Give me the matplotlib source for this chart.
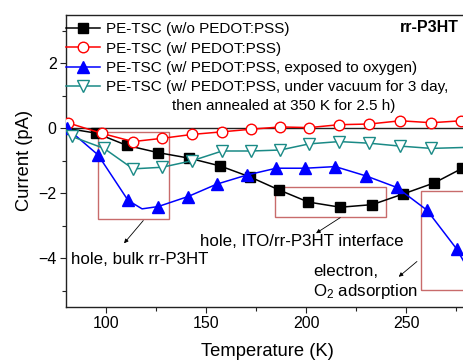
import matplotlib
matplotlib.use("Agg")
import matplotlib.pyplot as plt
from matplotlib.patches import Rectangle
from matplotlib.ticker import MultipleLocator, FixedLocator

plt.rcParams["font.family"] = ["Liberation Sans", "DejaVu Sans"]
plt.rcParams["mathtext.fontset"] = "custom"
plt.rcParams["mathtext.rm"] = "Liberation Sans"
plt.rcParams["mathtext.it"] = "Liberation Sans:italic"

# PE-TSC (w/o PEDOT:PSS)
black_T = [80, 95, 110.5, 126, 141.5, 157, 172, 186.5, 201, 217, 233, 248.5, 264, 278]
black_I = [0.0, -0.15, -0.53, -0.75, -0.92, -1.16, -1.5, -1.9, -2.27, -2.43, -2.35, -2.02, -1.68, -1.23]
black_mk = list(range(1, 14))

# PE-TSC (w/ PEDOT:PSS)
red_T = [80.8, 98, 113.5, 128, 143, 158, 172.5, 187, 201.5, 216.5, 231.5, 247, 262.5, 277.5, 285]
red_I = [0.17, -0.16, -0.41, -0.31, -0.19, -0.11, -0.03, 0.04, 0.02, 0.11, 0.13, 0.23, 0.17, 0.23, 0.25]
red_mk = list(range(0, 14))

# PE-TSC (w/ PEDOT:PSS, exposed to oxygen)
blue_T = [80.5, 96, 111, 118, 126, 141, 155.3, 170.3, 185, 199.5, 214.5, 230, 245.2, 260.3, 275.2, 281]
blue_I = [0.0, -0.82, -2.22, -2.48, -2.41, -2.10, -1.72, -1.44, -1.23, -1.23, -1.18, -1.47, -1.82, -2.52, -3.72, -4.35]
blue_mk = [0, 1, 2, 4, 5, 6, 7, 8, 9, 10, 11, 12, 13, 14]

# PE-TSC (w/ PEDOT:PSS, under vacuum, then annealed)
teal_T = [80, 82.8, 99, 113.5, 128, 143, 158, 172.5, 187, 201.5, 216.5, 231.5, 247, 262.5, 285]
teal_I = [-0.05, -0.25, -0.62, -1.25, -1.2, -1.0, -0.70, -0.70, -0.67, -0.48, -0.41, -0.46, -0.55, -0.62, -0.58]
teal_mk = list(range(1, 14))

labels = [
    "PE-TSC (w/o PEDOT:PSS)",
    "PE-TSC (w/ PEDOT:PSS)",
    "PE-TSC (w/ PEDOT:PSS, exposed to oxygen)",
    "PE-TSC (w/ PEDOT:PSS, under vacuum for 3 day,",
]
label_cont = "then annealed at 350 K for 2.5 h)"

x_major = [100, 150, 200, 250]
x_minor = [125, 175, 225, 275]

# highlighted regions: (T0, I0, width, height)
regions = [(96.1, -2.79, 35.5, 2.67), (184.6, -2.72, 55.4, 0.92), (257.3, -4.97, 60, 3.05)]
region_notes = ["hole, bulk rr-P3HT", "hole, ITO/rr-P3HT interface", "electron,\nO$_2$ adsorption"]
note_xy = [(82.3, -4.03), (146.9, -3.49), (203.4, -4.75)]
arrows = [((118.6, -2.84), (109, -3.54)), ((217, -2.75), (204.9, -3.23)), ((255.3, -4.10), (246.2, -4.57))]

W, H = 464, 361
fig = plt.figure(figsize=(W / 100, H / 100), dpi=100)
ax_left, ax_bottom, ax_top = 66, 307, 14.5
x0, x1 = 80, 300
px_per_K = 2.002
ax_w = (x1 - x0) * px_per_K
ax_h = ax_bottom - ax_top
ax = fig.add_axes([ax_left / W, (H - ax_bottom) / H, ax_w / W, ax_h / H])
ax.set_xlim(x0, x1)
ax.set_ylim(-5.5, 3.5)

ax.axhline(0, color="#222222", lw=1.0, zorder=1)

lw = 1.1
ax.plot(black_T, black_I, "-s", color="black", lw=lw, ms=7.2, markevery=black_mk,
        label=labels[0], zorder=3)
ax.plot(red_T, red_I, "-o", color="#ff0000", mfc="white", mec="#ff0000", mew=1.0, lw=lw,
        ms=7.6, markevery=red_mk, label=labels[1], zorder=3)
ax.plot(blue_T, blue_I, "-^", color="#0000ff", lw=lw, ms=8.5, markevery=blue_mk,
        label=labels[2], zorder=3)
ax.plot(teal_T, teal_I, "-v", color="#1a8a86", mfc="white", mec="#1a8a86", mew=1.0, lw=lw,
        ms=8.5, markevery=teal_mk, label=labels[3], zorder=3)

for (t0, i0, w, h) in regions:
    ax.add_patch(Rectangle((t0, i0), w, h, fill=False, ec="#c86b6b", lw=1.0, zorder=2))

for (start, end) in arrows:
    ax.annotate("", xy=end, xytext=start,
                arrowprops=dict(arrowstyle="-|>", color="black", lw=0.6,
                                mutation_scale=6, shrinkA=0, shrinkB=0))

for txt, (tx, ty) in zip(region_notes, note_xy):
    ax.text(tx, ty, txt, fontsize=12.2, ha="left", va="center", linespacing=1.2)

leg = ax.legend(loc="upper left", bbox_to_anchor=(0.0, (ax_h - 7.5) / ax_h),
                bbox_transform=ax.transAxes, frameon=False, fontsize=11.0,
                handlelength=2.2, handletextpad=0.4, borderaxespad=0, borderpad=0,
                labelspacing=0.36)
fig.text(172 / W, 1 - 106.5 / H, label_cont, fontsize=11.0, ha="left", va="center")
fig.text(459 / W, 1 - 27 / H, "rr-P3HT", fontsize=11.5, fontweight="bold", ha="right", va="center")

ax.xaxis.set_major_locator(FixedLocator(x_major))
ax.xaxis.set_minor_locator(FixedLocator(x_minor))
ax.yaxis.set_major_locator(MultipleLocator(2))
ax.yaxis.set_minor_locator(MultipleLocator(1))
ax.tick_params(which="both", direction="out", width=0.8, labelsize=11.5, color="#222222")
ax.tick_params(which="major", length=4.3, pad=2.5)
ax.tick_params(which="minor", length=2.6)
for s in ax.spines.values():
    s.set_linewidth(1.0)
    s.set_color("#222222")

ax.set_xlabel("Temperature (K)", fontsize=13.2, labelpad=2)
ax.xaxis.set_label_coords((267.5 - ax_left) / ax_w, -(351.7 - ax_bottom) / ax_h)
ax.xaxis.label.set_va("center")
ax.set_ylabel("Current (pA)", fontsize=13.2, labelpad=4)

fig.savefig("out.png", dpi=100)
